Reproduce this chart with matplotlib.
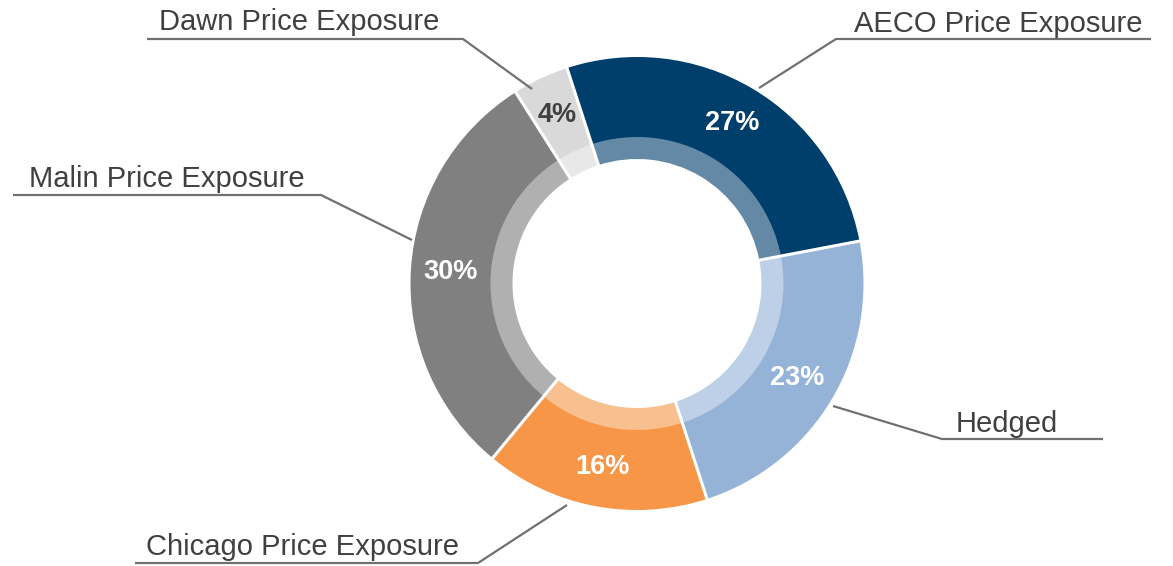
import numpy as np
import matplotlib.pyplot as plt

labels = ["AECO Price Exposure", "Hedged", "Chicago Price Exposure",
          "Malin Price Exposure", "Dawn Price Exposure"]
shares = [27, 23, 16, 30, 4]
colors = ["#003F6B", "#95B3D7", "#F79646", "#808080", "#D9D9D9"]
light_colors = ["#6389A6", "#BED0E7", "#F9C08F", "#B0B0B0", "#E8E8E8"]
pct_colors = ["white", "white", "white", "white", "#404040"]

W, H = 1173, 566
cx, cy = 637, H - 283.5
R_out, R_mid, R_hole = 226.5, 146.5, 124.5
start = 108

# leader lines in pixel coords (x, y from top): start on ring, elbow, end of underline
leaders = {
    "AECO Price Exposure": [(759, 88), (836, 39), (1151, 39)],
    "Hedged": [(833, 406), (942, 439), (1103, 439)],
    "Chicago Price Exposure": [(567, 505), (478, 563), (135, 563)],
    "Malin Price Exposure": [(412, 240), (321, 195), (13, 195)],
    "Dawn Price Exposure": [(532, 89), (463, 39), (147, 39)],
}
# label text: centre x and baseline height above the underline (pixels)
text_x = {
    "AECO Price Exposure": 998,
    "Hedged": 1007,
    "Chicago Price Exposure": 303,
    "Malin Price Exposure": 167,
    "Dawn Price Exposure": 299,
}
text_lift = {
    "AECO Price Exposure": 7,
    "Hedged": 7,
    "Chicago Price Exposure": 8,
    "Malin Price Exposure": 8,
    "Dawn Price Exposure": 9,
}

plt.rcParams['font.family'] = ['Liberation Sans', 'DejaVu Sans']

fig = plt.figure(figsize=(W / 100, H / 100), dpi=100)
ax = fig.add_axes([0, 0, 1, 1])

# inner light ring, slightly tucked under the outer ring
ax.pie(shares, colors=light_colors, startangle=start, counterclock=False,
       center=(cx, cy), radius=R_mid + 1,
       wedgeprops=dict(width=R_mid + 1 - R_hole, linewidth=0))

wedges, _, autotexts = ax.pie(
    shares, colors=colors, startangle=start, counterclock=False,
    center=(cx, cy), radius=R_out, autopct="%d%%",
    pctdistance=(R_out + R_mid) / 2 / R_out,
    wedgeprops=dict(width=R_out - R_mid, linewidth=0),
    textprops=dict(fontsize=19.5, fontweight="bold"))
for t, c in zip(autotexts, pct_colors):
    t.set_color(c)
    t.set_zorder(5)

# white separators between slices
cum = np.cumsum([0] + shares[:-1])
for c in cum:
    a = np.deg2rad(start - 360 * c / sum(shares))
    ax.plot([cx + (R_hole - 1) * np.cos(a), cx + (R_out + 2) * np.cos(a)],
            [cy + (R_hole - 1) * np.sin(a), cy + (R_out + 2) * np.sin(a)],
            color="white", lw=2.2, zorder=4, solid_capstyle="butt")

for name in labels:
    pts = leaders[name]
    xs = [p[0] for p in pts]
    ys = [H - p[1] for p in pts]
    ax.plot(xs, ys, color="#707070", lw=1.6, solid_capstyle="butt")
    ax.text(text_x[name], H - pts[2][1] + text_lift[name], name,
            ha="center", va="baseline", fontsize=21, color="#404040")

ax.set_xlim(0, W)
ax.set_ylim(0, H)
ax.set_aspect("equal")
ax.axis("off")

plt.savefig("out.png", dpi=100)
